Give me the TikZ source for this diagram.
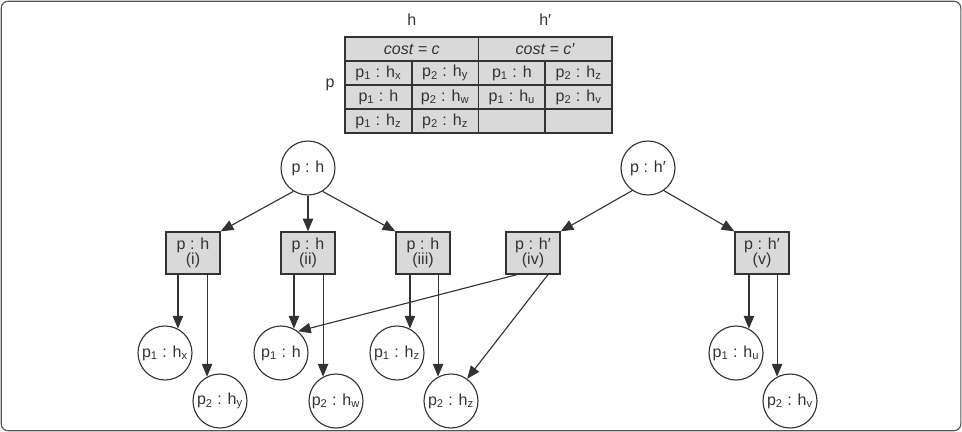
\documentclass[tikz,border=0pt]{standalone}
\usepackage{fontspec}
\setmainfont{Liberation Sans}
\usetikzlibrary{arrows.meta, calc}
\definecolor{inkgray}{HTML}{333333}
\definecolor{cellgray}{HTML}{D9D9D9}
\definecolor{framegray}{HTML}{555555}
\newcommand{\pairsub}[2]{p\textsubscript{#1} : h\textsubscript{#2}}

\begin{document}
\begin{tikzpicture}[
    state/.style={circle, draw=inkgray, line width=0.8pt, minimum size=13.5mm, inner sep=0pt, text=inkgray},
    choice/.style={draw=inkgray, fill=cellgray, line width=0.9pt, minimum width=13.5mm, minimum height=10.5mm, inner sep=0pt, align=center, text=inkgray, font=\fontsize{11.4}{11}\selectfont},
    cell/.style={draw=inkgray, fill=cellgray, line width=1.2pt, minimum width=16.69mm, minimum height=6mm, inner sep=0pt, text=inkgray},
    headcell/.style={cell, minimum width=33.38mm},
    note/.style={text=inkgray},
    arr/.style={-{Triangle[length=3.2mm, width=2.6mm]}, draw=inkgray, line width=0.8pt},
    every node/.append style={font=\fontsize{11.4}{13}\selectfont},
    x=1cm, y=1cm]

    \useasboundingbox (0,0) rectangle (24.05,-10.8);
    \draw[framegray, rounded corners=5pt, line width=0.8pt] (0.03,-0.03) rectangle (24.02,-10.77);

    % ================= the table =================
    \node[note] (hlab)  at (10.294, -0.5) {h};
    \node[note] (hplab) at (13.631, -0.5) {h′};
    \node[note] (plab)  at (8.25, -2.125) {p};

    \node[headcell] (hc)  at (10.294, -1.225) {\textit{cost = c}};
    \node[headcell] (hcp) at (13.631, -1.225) {\textit{cost = c′}};

    \node[cell] (c11) at (9.459, -1.825)  {\pairsub{1}{x}};
    \node[cell] (c12) at (11.128, -1.825) {\pairsub{2}{y}};
    \node[cell] (c13) at (12.797, -1.825) {p\textsubscript{1} : h};
    \node[cell] (c14) at (14.466, -1.825) {\pairsub{2}{z}};

    \node[cell] (c21) at (9.459, -2.425)  {p\textsubscript{1} : h};
    \node[cell] (c22) at (11.128, -2.425) {\pairsub{2}{w}};
    \node[cell] (c23) at (12.797, -2.425) {\pairsub{1}{u}};
    \node[cell] (c24) at (14.466, -2.425) {\pairsub{2}{v}};

    \node[cell] (c31) at (9.459, -3.025)  {\pairsub{1}{z}};
    \node[cell] (c32) at (11.128, -3.025) {\pairsub{2}{z}};
    \node[cell] (c33) at (12.797, -3.025) {};
    \node[cell] (c34) at (14.466, -3.025) {};

    % ================= the two trees =================
    \node[state] (top)  at (7.7, -4.2)  {p : h};
    \node[state] (topp) at (16.2, -4.2) {p : h′};

    \node[choice] (bi)   at (4.825, -6.325)  {p : h\\(i)};
    \node[choice] (bii)  at (7.7, -6.325)    {p : h\\(ii)};
    \node[choice] (biii) at (10.575, -6.325) {p : h\\(iii)};
    \node[choice] (biv)  at (13.325, -6.325) {p : h′\\(iv)};
    \node[choice] (bv)   at (19.05, -6.325)  {p : h′\\(v)};

    \node[state] (hx)  at (4.125, -8.825)  {\pairsub{1}{x}};
    \node[state] (hy)  at (5.5, -10.025)   {\pairsub{2}{y}};
    \node[state] (ha)  at (7.025, -8.825)  {p\textsubscript{1} : h};
    \node[state] (hw)  at (8.4, -10.025)   {\pairsub{2}{w}};
    \node[state] (hz)  at (9.925, -8.825)  {\pairsub{1}{z}};
    \node[state] (hzz) at (11.275, -10.025) {\pairsub{2}{z}};
    \node[state] (hu)  at (18.4, -8.825)   {\pairsub{1}{u}};
    \node[state] (hv)  at (19.75, -10.025) {\pairsub{2}{v}};

    % the roots branch into the choices -
    \draw[arr] (top.-122) -- (bi.north east);
    \draw[arr] (top.south) -- (bii.north);
    \draw[arr] (top.-58) -- (biii.north west);
    \draw[arr] (topp.-125) -- (biv.north east);
    \draw[arr] (topp.-55) -- (bv.north west);

    % each choice points down to its pair of leaves -
    \draw[arr] (bi.south -| hx.62) -- (hx.62);
    \draw[arr] (bi.south -| hy.118) -- (hy.118);
    \draw[arr] (bii.south -| ha.62) -- (ha.62);
    \draw[arr] (bii.south -| hw.118) -- (hw.118);
    \draw[arr] (biii.south -| hz.62) -- (hz.62);
    \draw[arr] (biii.south -| hzz.118) -- (hzz.118);
    \draw[arr] (bv.south -| hu.62) -- (hu.62);
    \draw[arr] (bv.south -| hv.118) -- (hv.118);

    % choice (iv) shares leaves with the first tree -
    \draw[arr] ([xshift=-4mm]biv.south) -- (ha.52);
    \draw[arr] ([xshift=3.75mm]biv.south) -- (hzz.54);
\end{tikzpicture}
\end{document}
